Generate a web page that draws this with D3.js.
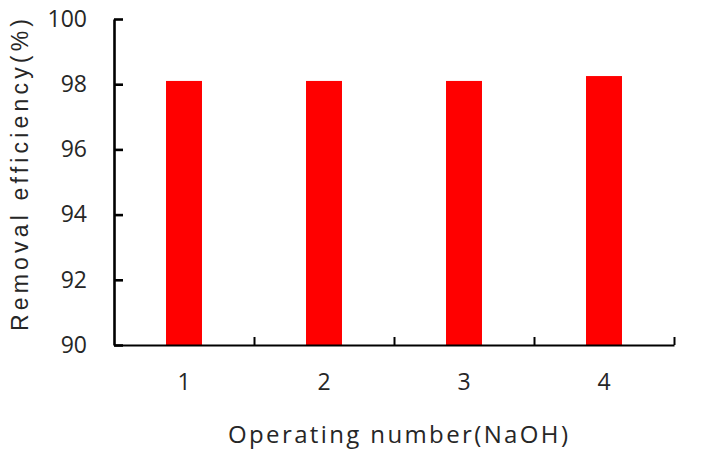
<!DOCTYPE html>
<html>
<head>
<meta charset="utf-8">
<script src="https://cdn.jsdelivr.net/npm/d3@7"></script>
<style>
  html, body { margin: 0; padding: 0; background: #fff; }
  svg { display: block; }
</style>
</head>
<body>
<svg id="chart" width="701" height="451"></svg>
<script>
const categories = ["1", "2", "3", "4"];
const values = [98.1, 98.1, 98.1, 98.25];
const yTicks = [90, 92, 94, 96, 98, 100];
const xTitle = "Operating number(NaOH)";
const yTitle = "Removal efficiency(%)";

const svg = d3.select("#chart");
const mLeft = 114, mRight = 674, mTop = 19, mBottom = 345;
const tickFont = "'Open Sans', Lato, sans-serif";

const x = d3.scaleBand().domain(categories).range([mLeft, mRight])
  .paddingInner(0.743).paddingOuter(0.3715);
const xb = d3.scaleLinear().domain([0, categories.length]).range([mLeft, mRight]);
const y = d3.scaleLinear().domain([90, 100]).range([mBottom, mTop]);

// bars
svg.append("g").selectAll("rect").data(values).join("rect")
  .attr("x", (d, i) => x(categories[i]))
  .attr("width", x.bandwidth())
  .attr("y", d => y(d))
  .attr("height", d => y(90) - y(d))
  .attr("fill", "#ff0000");

// y axis
const yAxis = svg.append("g").attr("transform", `translate(${mLeft},0)`)
  .call(d3.axisLeft(y).tickValues(yTicks).tickFormat(d3.format("d"))
    .tickSizeInner(-9).tickSizeOuter(0).tickPadding(27));
yAxis.select(".domain").attr("stroke", "#000").attr("stroke-width", 2.6);
yAxis.selectAll(".tick line").attr("stroke", "#000").attr("stroke-width", 2.6);
yAxis.selectAll("text").attr("font-family", tickFont)
  .attr("font-size", 23).attr("fill", "#262626");

// x axis: boundary ticks
const xAxisB = svg.append("g").attr("transform", `translate(0,${mBottom})`)
  .call(d3.axisBottom(xb).tickValues(d3.range(1, categories.length + 1))
    .tickFormat("").tickSizeInner(-8).tickSizeOuter(0));
xAxisB.select(".domain").attr("stroke", "#000").attr("stroke-width", 2.2);
xAxisB.selectAll(".tick line").attr("stroke", "#000").attr("stroke-width", 2);

// x labels
const xAxisL = svg.append("g").attr("transform", `translate(0,${mBottom})`)
  .call(d3.axisBottom(x).tickSize(0).tickPadding(29));
xAxisL.select(".domain").remove();
xAxisL.selectAll("text").attr("font-family", tickFont)
  .attr("font-size", 23).attr("fill", "#262626");

// titles
svg.append("text")
  .attr("x", 398).attr("y", 443)
  .attr("text-anchor", "middle")
  .attr("font-family", tickFont)
  .attr("font-size", 24).attr("fill", "#262626")
  .attr("textLength", 340).attr("lengthAdjust", "spacing")
  .text(xTitle);

svg.append("text")
  .attr("transform", "translate(28,175) rotate(-90)")
  .attr("text-anchor", "middle")
  .attr("font-family", "'Liberation Sans', Arial, sans-serif")
  .attr("font-size", 23).attr("fill", "#262626")
  .attr("textLength", 312).attr("lengthAdjust", "spacing")
  .text(yTitle);
</script>
</body>
</html>
